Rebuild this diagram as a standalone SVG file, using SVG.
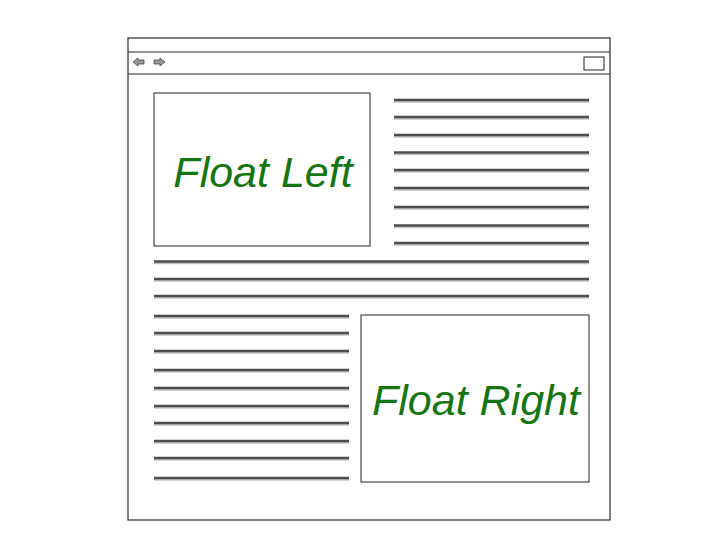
<svg xmlns="http://www.w3.org/2000/svg" width="720" height="540" viewBox="0 0 720 540">
<defs>
<style>
.frame{fill:#fff;stroke:#2a2a2a;stroke-width:1.2}
.box{fill:#fff;stroke:#222;stroke-width:1}
.ln{stroke:#4d4d4d;stroke-width:2.4}
.sh{stroke:#c4c4c4;stroke-width:2}
.lbl{font-family:"Liberation Sans",Arial,sans-serif;font-style:italic;font-size:43px;fill:#157510;text-anchor:middle}
.arr{fill:#999;stroke:#444;stroke-width:0.8}
</style>
</defs>
<rect width="720" height="540" fill="#fff"/>
<g id="window">
<rect class="frame" x="128" y="38" width="482" height="482"/>
<line class="frame" x1="128" y1="52" x2="610" y2="52"/>
<line class="frame" x1="128" y1="74" x2="610" y2="74"/>
<polygon class="arr" points="133,62 138,58 138,60 144,60 144,64 138,64 138,66"/>
<polygon class="arr" points="165,62 160,58 160,60 154,60 154,64 160,64 160,66"/>
<rect class="box" x="584" y="57" width="20" height="13"/>
</g>
<g id="float-left">
<rect class="box" x="154" y="93" width="216" height="153"/>
<text class="lbl" x="263" y="187">Float Left</text>
</g>
<g id="float-right">
<rect class="box" x="361" y="315" width="228" height="167"/>
<text class="lbl" x="476" y="415">Float Right</text>
</g>
<g id="text-lines">
<g transform="translate(0,1.8)">
<path class="sh" d="M394 100H589M394 117H589M394 135H589M394 152.5H589M394 170H589M394 188H589M394 207H589M394 225.5H589M394 243H589M154 261.5H589M154 279H589M154 296H589M154 316H349M154 333H349M154 351H349M154 370H349M154 388H349M154 406H349M154 423H349M154 441H349M154 458H349M154 478H349"/>
</g>
<path class="ln" d="M394 100H589M394 117H589M394 135H589M394 152.5H589M394 170H589M394 188H589M394 207H589M394 225.5H589M394 243H589M154 261.5H589M154 279H589M154 296H589M154 316H349M154 333H349M154 351H349M154 370H349M154 388H349M154 406H349M154 423H349M154 441H349M154 458H349M154 478H349"/>
</g>
</svg>
